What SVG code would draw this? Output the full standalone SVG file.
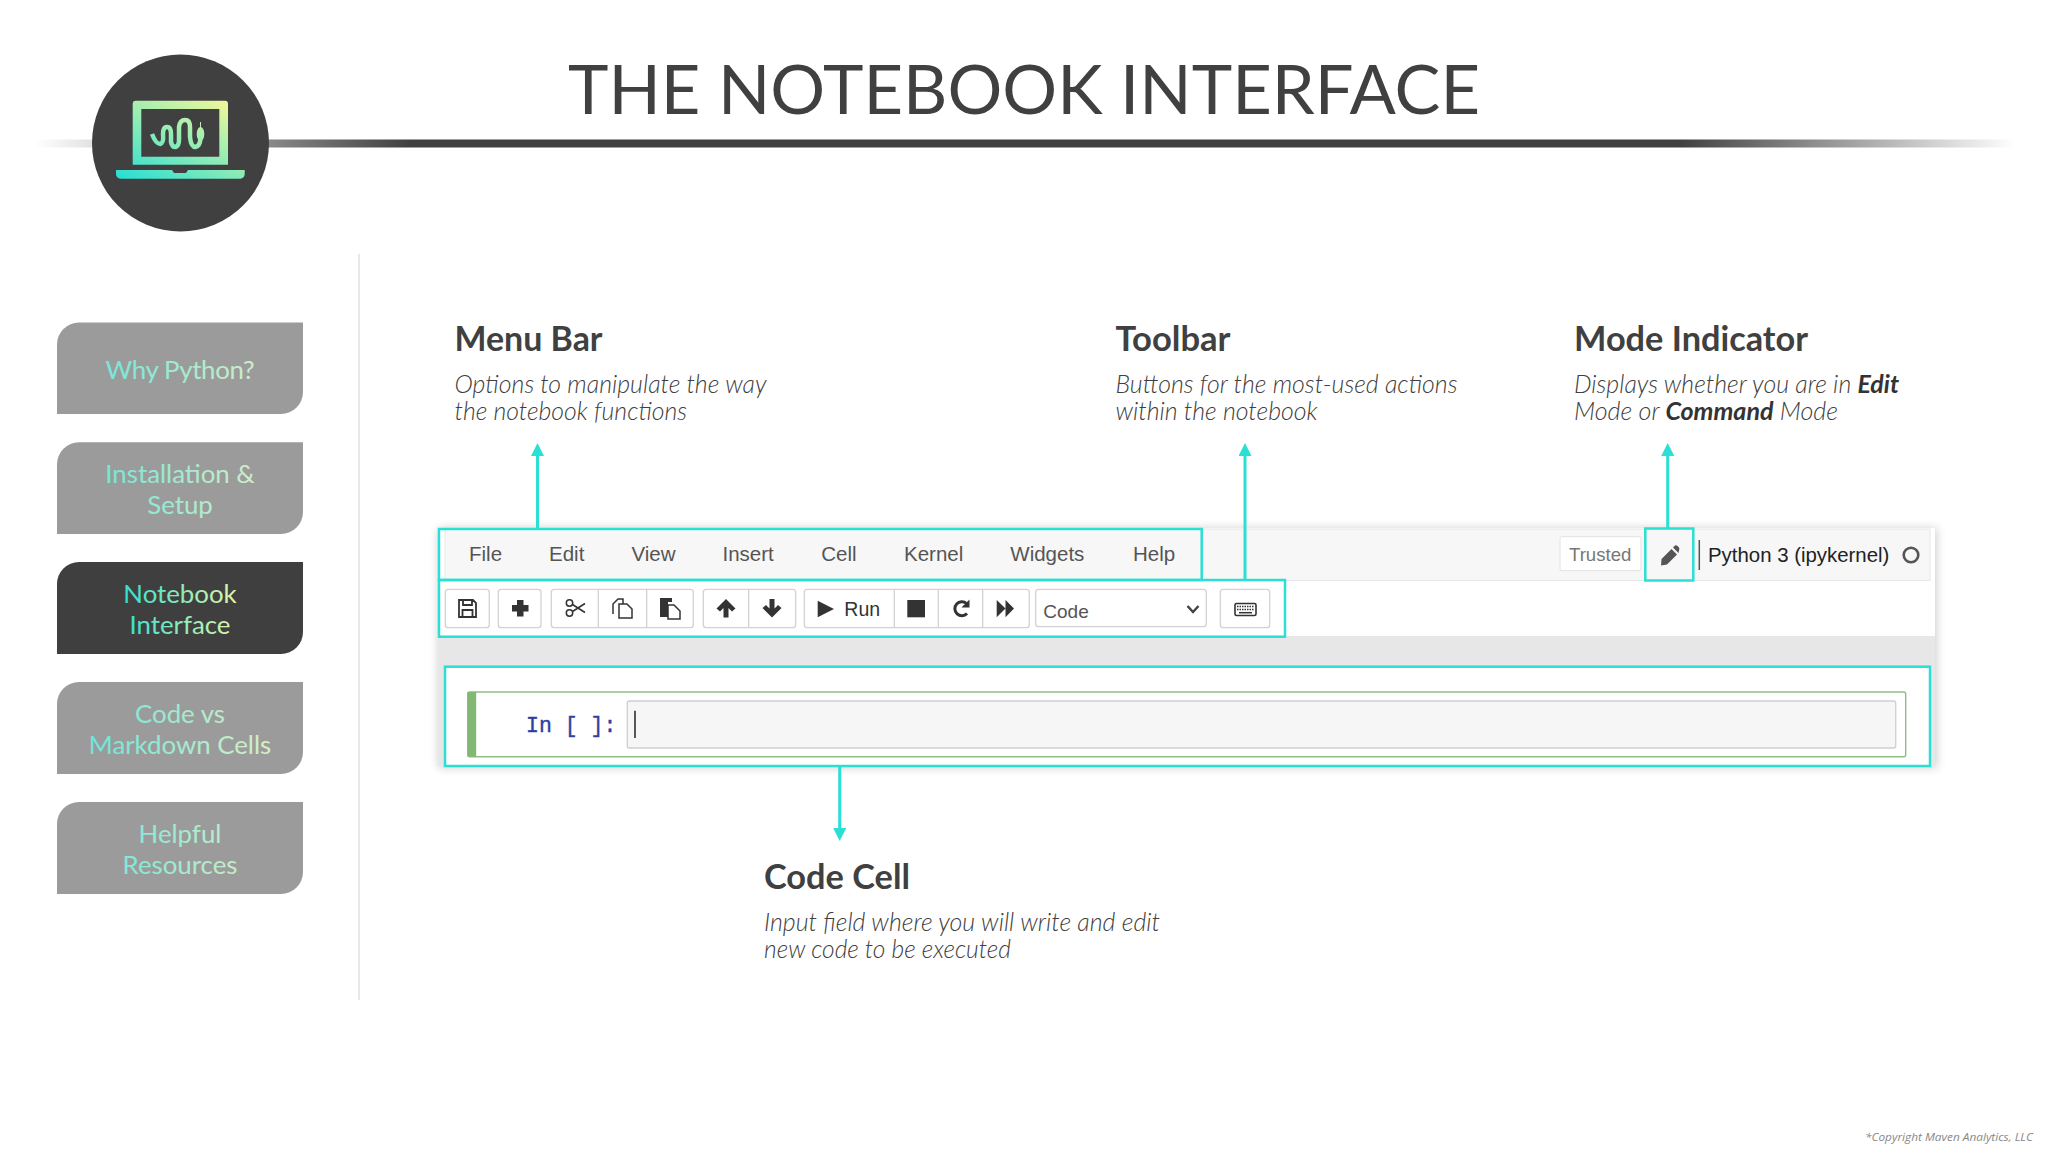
<svg xmlns="http://www.w3.org/2000/svg" width="2048" height="1152" viewBox="0 0 2048 1152">
<style>
.nav{font:400 25.800px Lato,sans-serif;text-anchor:middle}
.h{font:700 34.500px Lato,sans-serif;fill:#404040}
.d{font:italic 300 25px Lato,sans-serif;fill:#404040}
.b{font-weight:700;fill:#333}
.hl{fill:none;stroke:#2adfd3;stroke-width:2.500}
.m{font:20.500px "Liberation Sans",Arial,sans-serif;fill:#555}
.btn{fill:#fff;stroke:#d2d2d2;stroke-width:1.300}
.sep{stroke:#d2d2d2;stroke-width:1.300}
.ic{fill:#333}
.is{fill:none;stroke:#333;stroke-width:1.800}
.con{stroke:#2adfd3;stroke-width:3;fill:none;marker-end:url(#ah)}
</style>
<defs>
<marker id="ah" markerUnits="userSpaceOnUse" markerWidth="13" markerHeight="13" refX="0" refY="6.500" orient="auto"><path d="M0 0L13 6.500L0 13z" fill="#2adfd3"/></marker>
<linearGradient id="rule" gradientUnits="userSpaceOnUse" x1="35" y1="0" x2="2015" y2="0">
<stop offset="0" stop-color="#404040" stop-opacity="0"/><stop offset=".19" stop-color="#404040"/><stop offset=".83" stop-color="#404040"/><stop offset="1" stop-color="#404040" stop-opacity="0"/></linearGradient>
<linearGradient id="lap" gradientUnits="userSpaceOnUse" x1="125" y1="180" x2="175" y2="80"><stop offset="0" stop-color="#2adfd3"/><stop offset="1" stop-color="#e9f79c"/></linearGradient>
<linearGradient id="navg" gradientUnits="userSpaceOnUse" x1="90" y1="0" x2="275" y2="0"><stop offset="0" stop-color="#6ce5dc"/><stop offset="1" stop-color="#dcefc4"/></linearGradient>
<linearGradient id="nava" gradientUnits="userSpaceOnUse" x1="120" y1="0" x2="240" y2="0"><stop offset="0" stop-color="#2adfd3"/><stop offset="1" stop-color="#e9f5a8"/></linearGradient>
<filter id="sh" x="-3%" y="-10%" width="106%" height="120%"><feGaussianBlur stdDeviation="5"/></filter>
</defs>
<rect width="2048" height="1152" fill="#fff"/>
<g id="header">
<rect x="35" y="139.500" width="1980" height="8" fill="url(#rule)"/>
<text x="568" y="114" font-family="Lato,sans-serif" font-size="67" fill="#404040" textLength="912" lengthAdjust="spacingAndGlyphs">THE NOTEBOOK INTERFACE</text>
</g>
<g id="logo">
<circle cx="180.500" cy="143" r="88.500" fill="#404040"/>
<path fill-rule="evenodd" fill="url(#lap)" d="M136 100.700H225a3 3 0 0 1 3 3V164.700H132.700V103.700a3 3 0 0 1 3-3zM141.300 109V156.700H219.300V109z"/>
<path fill="url(#lap)" d="M116 170H172l2 3H186l2-3H244.700V174a4.500 4.500 0 0 1-4.500 4.700H120.500a4.500 4.500 0 0 1-4.500-4.700z"/>
<path fill="none" stroke="url(#lap)" stroke-width="4.500" stroke-linejoin="round" d="M152 134Q156 144 160 144Q164 143 163 134Q163 127 167 127Q171 127 171 134L171 142Q172 147 175.500 147Q179 146 179 140V127Q180 120 185 120Q190 120 190 127L190 137Q191 147 195.500 147Q200 146 200.500 138"/>
<ellipse cx="200.500" cy="134" rx="3.800" ry="7" fill="url(#lap)"/>
<path d="M200.500 128V122" stroke="url(#lap)" stroke-width="1" fill="none"/>
</g>
<path id="divider" d="M359 254V1000" stroke="#e3e3e3" stroke-width="1.600"/>
<g id="nav-why-python">
<path d="M79 322.500H303V392a22 22 0 0 1-22 22H57V344.500a22 22 0 0 1 22-22z" fill="#9b9b9b"/>
<text class="nav" x="180" y="379.300" fill="url(#navg)" textLength="149">Why Python?</text></g>
<g id="nav-install">
<path d="M79 442.300H303V512a22 22 0 0 1-22 22H57V464.300a22 22 0 0 1 22-22z" fill="#9b9b9b"/>
<text class="nav" x="180" y="483" fill="url(#navg)">Installation &amp;</text><text class="nav" x="180" y="514" fill="url(#navg)">Setup</text></g>
<g id="nav-notebook">
<path d="M79 562H303V632a22 22 0 0 1-22 22H57V584a22 22 0 0 1 22-22z" fill="#3f3f3f"/>
<text class="nav" x="180" y="603" fill="url(#nava)">Notebook</text><text class="nav" x="180" y="634.300" fill="url(#nava)">Interface</text></g>
<g id="nav-code">
<path d="M79 682H303V752a22 22 0 0 1-22 22H57V704a22 22 0 0 1 22-22z" fill="#9b9b9b"/>
<text class="nav" x="180" y="723.300" fill="url(#navg)">Code vs</text><text class="nav" x="180" y="754" fill="url(#navg)">Markdown Cells</text></g>
<g id="nav-resources">
<path d="M79 802H303V872a22 22 0 0 1-22 22H57V824a22 22 0 0 1 22-22z" fill="#9b9b9b"/>
<text class="nav" x="180" y="843" fill="url(#navg)">Helpful</text><text class="nav" x="180" y="873.700" fill="url(#navg)">Resources</text></g>

<g id="notebook">
<rect x="438" y="528" width="1499" height="240" fill="#000" opacity=".18" filter="url(#sh)"/>
<rect x="438" y="528" width="1497" height="108" fill="#fff"/>
<rect x="438" y="636" width="1497" height="130" fill="#e7e7e7"/>
<rect x="445" y="529" width="1485" height="51.500" fill="#f7f7f7" stroke="#e8e8e8" stroke-width="1"/>
<rect x="445" y="581" width="835" height="54" fill="#fff"/>
</g>
<g id="menu-items">
<text class="m" x="469" y="560.700">File</text><text class="m" x="549" y="560.700">Edit</text><text class="m" x="631.500" y="560.700">View</text><text class="m" x="722.500" y="560.700">Insert</text><text class="m" x="821.200" y="560.700">Cell</text><text class="m" x="904" y="560.700">Kernel</text><text class="m" x="1010.300" y="560.700">Widgets</text><text class="m" x="1133" y="560.700">Help</text>
</g>
<g id="toolbar">
<rect class="btn" x="445.300" y="589.300" width="44" height="38.400" rx="3"/>
<rect class="btn" x="498.300" y="589.300" width="42.700" height="38.400" rx="3"/>
<rect class="btn" x="551.300" y="589.300" width="142" height="38.400" rx="3"/>
<path class="sep" d="M598.300 589.300V627.700M646.700 589.300V627.700M748.700 589.300V627.700M894.300 589.300V627.700M938.300 589.300V627.700M982.700 589.300V627.700"/>
<rect class="btn" x="703.300" y="589.300" width="92.400" height="38.400" rx="3" style="fill:none"/>
<rect class="btn" x="804.300" y="589.300" width="225" height="38.400" rx="3" style="fill:none"/>
<rect class="btn" x="1035.700" y="589.300" width="170.600" height="37.400" rx="3" style="fill:none"/>
<rect class="btn" x="1220.300" y="589.300" width="49.400" height="38.400" rx="3" style="fill:none"/>
<path class="is" d="M459 600H473L476 603V617H459ZM463 600V605H472V600M462.500 617V610H472.500V617"/>
<path class="ic" d="M517 600H523.500V605H528.500V611.500H523.500V616.500H517V611.500H512V605H517Z"/>
<g class="is" style="stroke-width:1.500"><circle cx="569.500" cy="603" r="3.200"/><circle cx="569.500" cy="613" r="3.200"/><path d="M572.500 604.500L585 612.500M572.500 611.500L585 603.500"/></g>
<path class="is" style="stroke-width:1.500" d="M613 614V604L618 599H623V604M619 604H627L632 609V618H619Z"/>
<path class="ic" d="M660 598H672V602H668V617H660Z"/><path class="is" style="stroke-width:1.500" d="M668 605H674L680 611V619H668Z"/>
<path class="ic" d="M726 599L735.500 608.500L732 611.500L728.500 608V617.500H723.500V608L720 611.500L716.500 608.500Z"/>
<path class="ic" d="M772 617.500L762.500 608L766 605L769.500 608.500V599H774.500V608.500L778 605L781.500 608Z"/>
<path class="ic" d="M817.700 600.700L834 609L817.700 617.300Z"/>
<text x="844.300" y="616" font-family="'Liberation Sans',Arial,sans-serif" font-size="19.500" fill="#333">Run</text>
<rect class="ic" x="907.300" y="600" width="17.700" height="17.300"/>
<path fill="none" stroke="#333" stroke-width="3" d="M967 613.500A7 7 0 1 1 966.500 603.500"/><path class="ic" d="M961.500 607.500H969.500V599.500Z"/>
<path class="ic" d="M996.700 600L1005.500 608.600V600L1014 608.600L1005.500 617.300V608.600L996.700 617.300Z"/>
<text x="1043.300" y="617.700" font-family="'Liberation Sans',Arial,sans-serif" font-size="19" fill="#555">Code</text>
<path fill="none" stroke="#444" stroke-width="2.500" d="M1187.500 606L1193 612L1198.500 606"/>
<rect x="1235" y="603.500" width="21" height="12" rx="1.500" fill="#fff" stroke="#333" stroke-width="1.600"/>
<path d="M1237 606.500H1254M1237 609.500H1254" stroke="#333" stroke-width="1.500" stroke-dasharray="1.500 1"/><path d="M1239 612.700H1252" stroke="#333" stroke-width="1.500"/>
</g>
<g id="status">
<rect x="1560" y="536.700" width="81" height="34" rx="2" fill="#fff" stroke="#e2e2e2"/>
<text x="1569" y="560.700" font-family="'Liberation Sans',Arial,sans-serif" font-size="18.600" fill="#777">Trusted</text>
<path fill="#555" d="M1671.500 549L1677 554.500L1667 564.500L1661 565.500L1661.500 559ZM1673 547.500L1675 545.500Q1676.500 545 1677.800 546.300L1678.800 547.300Q1680 548.800 1679 550.500L1678.500 553Z"/>
<path d="M1699.300 540V570" stroke="#555" stroke-width="1.500"/>
<text x="1708" y="562" font-family="'Liberation Sans',Arial,sans-serif" font-size="20.400" fill="#222">Python 3 (ipykernel)</text>
<circle cx="1911" cy="555" r="7.300" fill="none" stroke="#555" stroke-width="2.600"/>
</g>
<g id="cell">
<rect x="445" y="666.700" width="1485" height="99.300" fill="#fff"/>
<rect x="467.700" y="692" width="1438" height="64.700" rx="2" fill="#fff" stroke="#8dbf83" stroke-width="1.400"/>
<rect x="467.700" y="692" width="8.500" height="64.700" fill="#82b874"/>
<rect x="627.300" y="701" width="1268.400" height="47" rx="2" fill="#f6f6f6" stroke="#cfcfcf" stroke-width="1.300"/>
<path d="M635 710.700V738" stroke="#222" stroke-width="1.500"/>
<text x="526" y="731.500" font-family="'Liberation Mono',monospace" font-size="21.500" fill="#303f9f" stroke="#303f9f" stroke-width=".4">In [ ]:</text>
</g>
<g id="highlights">
<rect class="hl" x="439" y="529" width="762.700" height="51"/>
<rect class="hl" x="439" y="580" width="846" height="56.700"/>
<rect class="hl" x="1645.300" y="528.500" width="48" height="52"/>
<rect class="hl" x="445" y="666.700" width="1485" height="99.300"/>
</g>
<g id="connectors">
<path class="con" d="M537.500 529V456"/>
<path class="con" d="M1245 580V456"/>
<path class="con" d="M1667.700 528V456"/>
<path class="con" d="M839.700 766V828"/>
</g>
<g id="label-menu-bar"><text class="h" x="454.500" y="351" textLength="148" lengthAdjust="spacingAndGlyphs">Menu Bar</text>
<text class="d" x="454.500" y="392.500" textLength="312" lengthAdjust="spacingAndGlyphs">Options to manipulate the way</text><text class="d" x="454.500" y="420" textLength="232.500" lengthAdjust="spacingAndGlyphs">the notebook functions</text></g>
<g id="label-toolbar"><text class="h" x="1115.500" y="351" textLength="115" lengthAdjust="spacingAndGlyphs">Toolbar</text>
<text class="d" x="1115.500" y="392.500" textLength="342" lengthAdjust="spacingAndGlyphs">Buttons for the most-used actions</text><text class="d" x="1115.500" y="420" textLength="202" lengthAdjust="spacingAndGlyphs">within the notebook</text></g>
<g id="label-mode"><text class="h" x="1574" y="351" textLength="234" lengthAdjust="spacingAndGlyphs">Mode Indicator</text>
<text class="d" x="1574" y="392.500" textLength="325" lengthAdjust="spacingAndGlyphs">Displays whether you are in <tspan class="b">Edit</tspan></text><text class="d" x="1574" y="420" textLength="264" lengthAdjust="spacingAndGlyphs">Mode or <tspan class="b">Command</tspan> Mode</text></g>
<g id="label-code-cell"><text class="h" x="764" y="889.300" textLength="146" lengthAdjust="spacingAndGlyphs">Code Cell</text>
<text class="d" x="764" y="931" textLength="396" lengthAdjust="spacingAndGlyphs">Input field where you will write and edit</text><text class="d" x="764" y="958.300" textLength="247" lengthAdjust="spacingAndGlyphs">new code to be executed</text></g>
<text id="copyright" x="1865" y="1140.700" font-family="'Open Sans',sans-serif" font-style="italic" font-size="11" fill="#888" textLength="168" lengthAdjust="spacingAndGlyphs">*Copyright Maven Analytics, LLC</text>
</svg>
